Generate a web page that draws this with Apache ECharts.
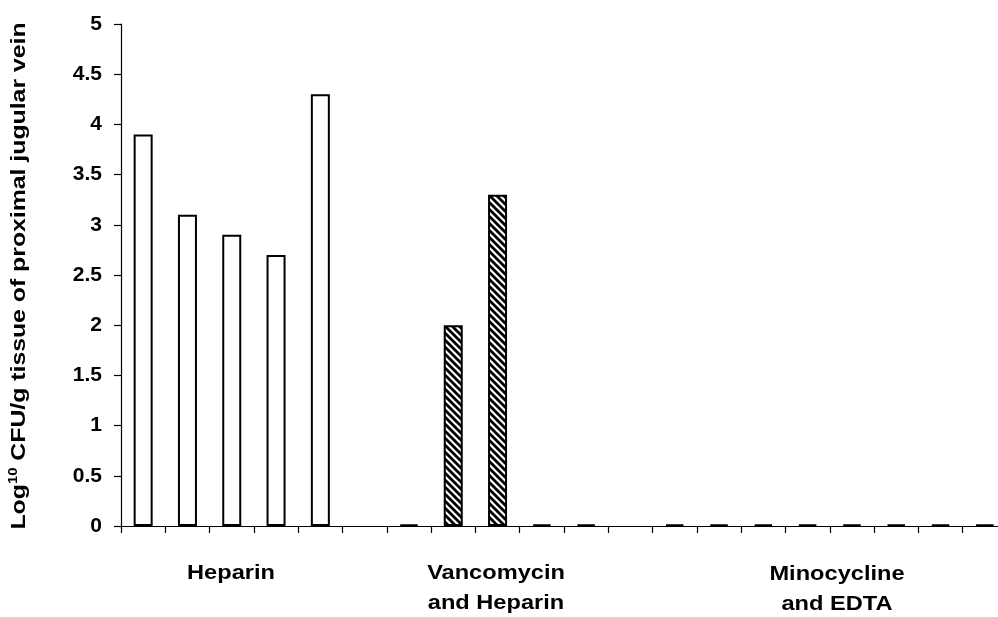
<!DOCTYPE html>
<html>
<head>
<meta charset="utf-8">
<script src="https://cdn.jsdelivr.net/npm/echarts@6/dist/echarts.min.js"></script>
<style>
html,body{margin:0;padding:0;background:#fff;}
#chart{width:998px;height:617px;}
</style>
</head>
<body>
<div id="chart"></div>
<script>
// ---- data ----
const categories = ['1','2','3','4','5','6','7','8','9','10','11','12','13','14','15','16','17','18','19','20'];
const heparin     = [3.9, 3.1, 2.9, 2.7, 4.3, null, null, null, null, null, null, null, null, null, null, null, null, null, null, null];
const vancomycin  = [null, null, null, null, null, null, 0.015, 2.0, 3.3, 0.015, null, null, null, null, null, null, null, null, null, null];
const minocycline = [null, null, null, null, null, null, null, null, null, null, 0.015, null, 0.015, 0.015, 0.015, 0.015, 0.015, 0.015, 0.015, 0.015];
const yTicks = [0, 0.5, 1, 1.5, 2, 2.5, 3, 3.5, 4, 4.5, 5];
const groupLabels = ['Heparin', 'Vancomycin\nand Heparin', 'Minocycline\nand EDTA'];
const yTitleParts = ['Log', '10', ' CFU/g tissue of proximal jugular vein'];

// ---- hatch pattern ----
function makeHatch() {
  const s = 7;
  const c = document.createElement('canvas');
  c.width = s; c.height = s;
  const ctx = c.getContext('2d');
  ctx.fillStyle = '#fff';
  ctx.fillRect(0, 0, s, s);
  ctx.strokeStyle = '#000';
  ctx.lineWidth = 2.8;
  ctx.beginPath();
  for (let k = -s; k <= s; k += s) {
    ctx.moveTo(k - 1, -1);
    ctx.lineTo(k + s + 1, s + 1);
  }
  ctx.stroke();
  return c;
}
const hatch = makeHatch();

const chart = echarts.init(document.getElementById('chart'), null, {renderer: 'canvas'});
const gridLeft = 121, gridTop = 24, gridW = 886, gridH = 502;
const labelFont = 'bold 20px "Liberation Sans", Arial, sans-serif';

const option = {
  animation: false,
  backgroundColor: '#fff',
  grid: { left: gridLeft, top: gridTop, width: gridW, height: gridH, containLabel: false, outerBoundsMode: 'none' },
  xAxis: {
    type: 'category',
    data: categories,
    boundaryGap: true,
    axisLine: { lineStyle: { color: '#000', width: 1.2 } },
    axisTick: { show: true, length: 7, alignWithLabel: false, lineStyle: { color: '#000', width: 1.2 } },
    axisLabel: { show: false },
    splitLine: { show: false }
  },
  yAxis: {
    type: 'value',
    min: 0, max: 5, interval: 0.5,
    axisLine: { show: true, lineStyle: { color: '#000', width: 1.2 } },
    axisTick: { show: true, length: 7, lineStyle: { color: '#000', width: 1.2 } },
    axisLabel: {
      margin: 19,
      color: '#000',
      fontFamily: '"Liberation Sans", Arial, sans-serif',
      fontWeight: 'bold',
      fontSize: 21,
      formatter: function (v) { return yTicks.indexOf(v) >= 0 ? String(v) : ''; }
    },
    splitLine: { show: false }
  },
  series: [
    {
      name: 'Heparin', type: 'bar', data: heparin, barWidth: 19, barGap: '-100%',
      itemStyle: { color: '#fff', borderColor: '#000', borderWidth: 2 }
    },
    {
      name: 'Vancomycin and Heparin', type: 'bar', data: vancomycin, barWidth: 19, barGap: '-100%',
      itemStyle: { color: { image: hatch, repeat: 'repeat' }, borderColor: '#000', borderWidth: 2 }
    },
    {
      name: 'Minocycline and EDTA', type: 'bar', data: minocycline, barWidth: 19, barGap: '-100%',
      itemStyle: { color: '#fff', borderColor: '#000', borderWidth: 2 }
    }
  ],
  graphic: [
    {
      type: 'text', x: 231, y: 573, scaleX: 1.18,
      style: { text: groupLabels[0], font: labelFont, fill: '#000', align: 'center', verticalAlign: 'middle', lineHeight: 30 }
    },
    {
      type: 'text', x: 496, y: 588, scaleX: 1.18,
      style: { text: groupLabels[1], font: labelFont, fill: '#000', align: 'center', verticalAlign: 'middle', lineHeight: 30 }
    },
    {
      type: 'text', x: 837, y: 589, scaleX: 1.18,
      style: { text: groupLabels[2], font: labelFont, fill: '#000', align: 'center', verticalAlign: 'middle', lineHeight: 30 }
    },
    {
      type: 'text', x: 19, y: 276, rotation: Math.PI / 2, scaleX: 1.24,
      style: {
        text: '{a|' + yTitleParts[0] + '}{s|' + yTitleParts[1] + '}{a|' + yTitleParts[2] + '}',
        align: 'center', verticalAlign: 'middle', fill: '#000',
        rich: {
          a: { font: labelFont, fill: '#000', lineHeight: 22 },
          s: { font: 'bold 12px "Liberation Sans", Arial, sans-serif', fill: '#000', lineHeight: 12, verticalAlign: 'top' }
        }
      }
    }
  ]
};
chart.setOption(option);
</script>
</body>
</html>
